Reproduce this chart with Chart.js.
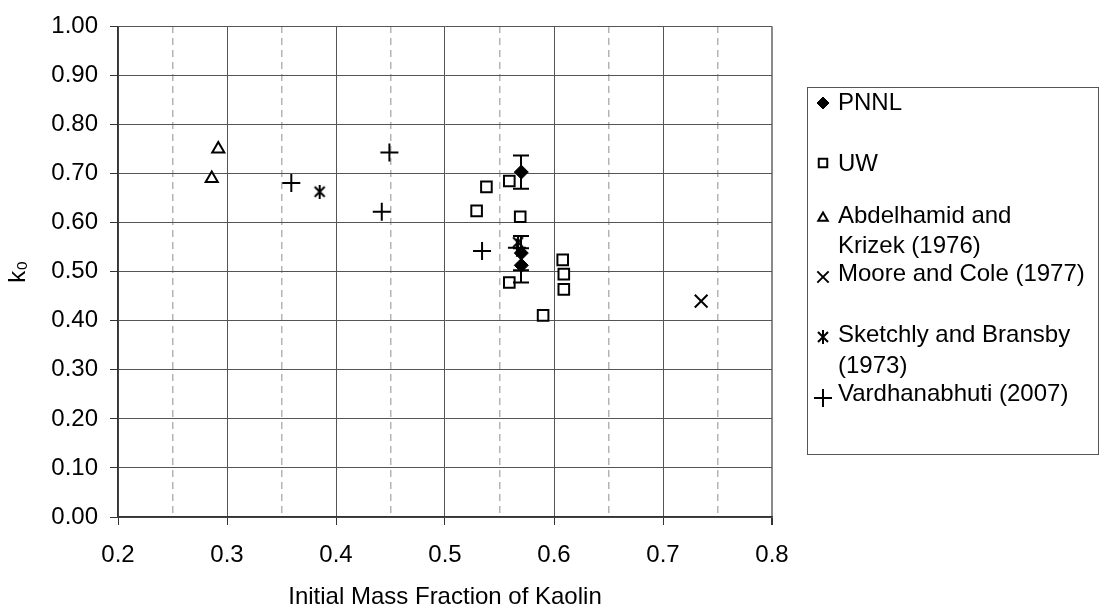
<!DOCTYPE html>
<html>
<head>
<meta charset="utf-8">
<script src="https://cdn.jsdelivr.net/npm/chart.js@4/dist/chart.umd.min.js"></script>
<style>
  html, body { margin: 0; padding: 0; background: #fff; }
  #wrap { width: 1104px; height: 609px; }
</style>
</head>
<body>
<div id="wrap"><canvas id="grafico" width="1104" height="609"></canvas></div>
<script>
// Dados
const pnnlX = [0.570, 0.570, 0.570];
const pnnlY = [0.703, 0.538, 0.513];
const pnnlErr = [0.034, 0.035, 0.035];

const uwX = [0.559, 0.538, 0.529, 0.569, 0.559, 0.608, 0.609, 0.609, 0.590];
const uwY = [0.685, 0.673, 0.624, 0.612, 0.478, 0.524, 0.495, 0.464, 0.411];

const abdelX = [0.292, 0.286];
const abdelY = [0.750, 0.690];

const mooreX = [0.735];
const mooreY = [0.440];

const sketchlyX = [0.385, 0.567];
const sketchlyY = [0.663, 0.560];

const vardhX = [0.359, 0.449, 0.442, 0.534, 0.566];
const vardhY = [0.681, 0.743, 0.622, 0.542, 0.549];

const legendLabels = [
    ['PNNL'],
    ['UW'],
    ['Abdelhamid and', 'Krizek (1976)'],
    ['Moore and Cole (1977)'],
    ['Sketchly and Bransby', '(1973)'],
    ['Vardhanabhuti (2007)']
];

const xMin = 0.2, xMax = 0.8, xStep = 0.1, xMinorStep = 0.05;
const yMin = 0, yMax = 1, yStep = 0.1;

const FONT = '"Liberation Sans", Arial, sans-serif';

function pares(xs, ys) {
    return xs.map((x, i) => ({ x: x, y: ys[i] }));
}

// Marcador tipo asterisco (X com traço vertical)
function criarAsterisco() {
    const c = document.createElement('canvas');
    c.width = 14; c.height = 14;
    const g = c.getContext('2d');
    g.strokeStyle = '#000';
    g.lineWidth = 2;
    g.beginPath();
    g.moveTo(2, 2); g.lineTo(12, 12);
    g.moveTo(12, 2); g.lineTo(2, 12);
    g.moveTo(7, 0); g.lineTo(7, 14);
    g.stroke();
    return c;
}
const asterisco = criarAsterisco();

// Barras de erro do PNNL
const barrasErro = {
    id: 'barrasErro',
    afterDatasetsDraw(chart) {
        const { ctx, scales } = chart;
        ctx.save();
        ctx.strokeStyle = '#000';
        ctx.lineWidth = 2;
        pnnlX.forEach((x, i) => {
            const px = Math.round(scales.x.getPixelForValue(x));
            const pTop = scales.y.getPixelForValue(pnnlY[i] + pnnlErr[i]);
            const pBot = scales.y.getPixelForValue(pnnlY[i] - pnnlErr[i]);
            ctx.beginPath();
            ctx.moveTo(px, pTop); ctx.lineTo(px, pBot);
            ctx.moveTo(px - 8, pTop); ctx.lineTo(px + 8, pTop);
            ctx.moveTo(px - 8, pBot); ctx.lineTo(px + 8, pBot);
            ctx.stroke();
        });
        ctx.restore();
    }
};

// Legenda à direita, com moldura
const legendaCaixa = {
    id: 'legendaCaixa',
    afterDraw(chart) {
        const c = chart.ctx;
        const linhasY = [[102], [163], [215, 245], [273], [334, 365], [393]];
        const marcadorY = [103, 163, 218, 277, 337, 398];
        c.save();
        c.strokeStyle = '#555';
        c.lineWidth = 1;
        c.strokeRect(807.5, 87.5, 291, 367);
        c.font = '24px ' + FONT;
        c.textBaseline = 'middle';
        c.textAlign = 'left';
        chart.data.datasets.forEach((ds, i) => {
            c.fillStyle = ds.backgroundColor;
            c.strokeStyle = ds.borderColor;
            c.lineWidth = ds.borderWidth;
            Chart.helpers.drawPoint(c, {
                pointStyle: ds.pointStyle,
                radius: ds.legendRadius,
                borderWidth: ds.borderWidth,
                rotation: 0
            }, 823, marcadorY[i]);
            c.fillStyle = '#000';
            legendLabels[i].forEach((txt, j) => {
                c.fillText(txt, 838, linhasY[i][j] + 1);
            });
        });
        c.restore();
    }
};

const datasets = [
    {
        label: 'PNNL', data: pares(pnnlX, pnnlY),
        pointStyle: 'rectRot', pointRadius: 7, legendRadius: 6,
        backgroundColor: '#000', borderColor: '#000', borderWidth: 1
    },
    {
        label: 'UW', data: pares(uwX, uwY),
        pointStyle: 'rect', pointRadius: 7.5, legendRadius: 6,
        backgroundColor: '#fff', borderColor: '#000', borderWidth: 2
    },
    {
        label: 'Abdelhamid and Krizek (1976)', data: pares(abdelX, abdelY),
        pointStyle: 'triangle', pointRadius: 7, legendRadius: 5.5,
        backgroundColor: '#fff', borderColor: '#000', borderWidth: 2
    },
    {
        label: 'Moore and Cole (1977)', data: pares(mooreX, mooreY),
        pointStyle: 'crossRot', pointRadius: 9, legendRadius: 8,
        backgroundColor: '#000', borderColor: '#000', borderWidth: 2
    },
    {
        label: 'Sketchly and Bransby (1973)', data: pares(sketchlyX, sketchlyY),
        pointStyle: asterisco, pointRadius: 7, legendRadius: 7,
        backgroundColor: '#000', borderColor: '#000', borderWidth: 2
    },
    {
        label: 'Vardhanabhuti (2007)', data: pares(vardhX, vardhY),
        pointStyle: 'cross', pointRadius: 9, legendRadius: 9,
        backgroundColor: '#000', borderColor: '#000', borderWidth: 2
    }
];

const ehMax = (c) => c.tick && Math.abs(c.tick.value - xMax) < 1e-6;

new Chart(document.getElementById('grafico').getContext('2d'), {
    type: 'scatter',
    data: { datasets },
    plugins: [barrasErro, legendaCaixa],
    options: {
        responsive: false,
        animation: false,
        layout: { padding: { top: 21, right: 332, left: 0, bottom: 0 } },
        plugins: {
            legend: { display: false },
            tooltip: { enabled: false }
        },
        scales: {
            x: {
                type: 'linear',
                position: 'bottom',
                min: xMin, max: xMax,
                afterFit: (s) => { s.height = 92; },
                ticks: {
                    stepSize: xStep,
                    color: '#000',
                    font: { size: 24, family: FONT },
                    padding: 16,
                    callback: (v) => v.toFixed(1)
                },
                grid: {
                    color: (c) => ehMax(c) ? '#8a8a8a' : '#555',
                    lineWidth: (c) => ehMax(c) ? 2 : 1,
                    tickLength: 8,
                    tickColor: '#333'
                },
                border: { color: '#333', width: 1.5 },
                title: {
                    display: true,
                    text: 'Initial Mass Fraction of Kaolin',
                    color: '#000',
                    font: { size: 24, family: FONT, lineHeight: 1 },
                    padding: { top: 0, bottom: 0 }
                }
            },
            xMinor: {
                type: 'linear',
                position: 'top',
                min: xMin, max: xMax,
                afterFit: (s) => { s.height = 0; },
                ticks: { display: false, stepSize: xMinorStep },
                grid: {
                    drawTicks: false,
                    color: (c) => (c.index % 2 === 1) ? '#b4b4b4' : 'rgba(0,0,0,0)',
                    lineWidth: 1.5
                },
                border: { display: false, dash: [7, 5] }
            },
            y: {
                type: 'linear',
                min: yMin, max: yMax,
                afterFit: (s) => { s.width = 118; },
                ticks: {
                    stepSize: yStep,
                    color: '#000',
                    font: { size: 24, family: FONT },
                    padding: 12,
                    callback: (v) => v.toFixed(2)
                },
                grid: {
                    color: '#555',
                    lineWidth: 1,
                    tickLength: 8,
                    tickColor: '#333'
                },
                border: { color: '#333', width: 1.5 },
                title: {
                    display: true,
                    text: 'k₀',
                    color: '#000',
                    font: { size: 24, family: FONT },
                    padding: { top: 4, bottom: 0 }
                }
            }
        }
    }
});
</script>
</body>
</html>
